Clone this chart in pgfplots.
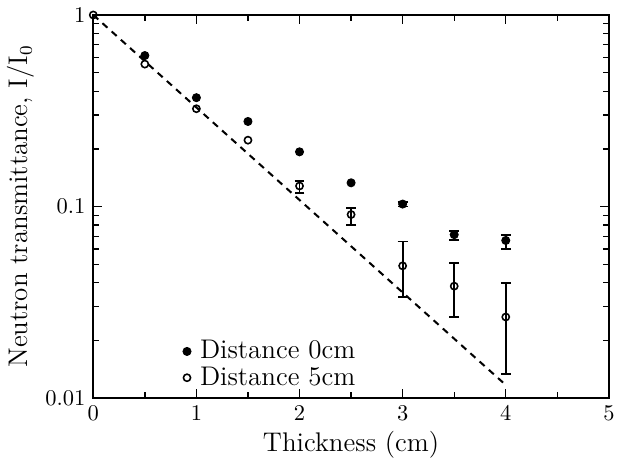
\documentclass[border=0pt]{standalone}
\usepackage{pgfplots}
\pgfplotsset{compat=1.18}
\begin{document}
\begin{tikzpicture}
\begin{axis}[scale only axis,width=229.5pt,height=170.5pt,
  ymode=log,xmin=0,xmax=5,ymin=0.01,ymax=1,
  xtick={0,1,2,3,4,5},minor xtick={0.5,1.5,2.5,3.5,4.5},
  ytick={0.01,0.1,1},yticklabels={0.01,0.1,1},
  tick align=inside,major tick length=4pt,minor tick length=2.5pt,
  axis line style={line width=0.9pt},
  every tick/.style={line width=0.6pt},
  xlabel={Thickness (cm)},ylabel={Neutron transmittance, I/I$_0$},
  label style={font=\large},
  xlabel style={yshift=2pt},ylabel style={yshift=-2pt},
  legend style={draw=none,fill=none,at={(0.16,0.0)},anchor=south west,font=\large,row sep=-2pt},
  legend cell align=left]
\addplot[only marks,mark=*,mark size=1.8pt,black,
  error bars/.cd,y dir=both,y explicit,error bar style={line width=0.8pt},
  error mark options={rotate=90,mark size=2.2pt,line width=0.8pt}]
  coordinates {(0.5,0.614) (1,0.37) (1.5,0.278) (2,0.193) (2.5,0.133)
  (3,0.103) += (0,0.003) -= (0,0.003)
  (3.5,0.0713) += (0,0.0034) -= (0,0.0043)
  (4,0.0665) += (0,0.0048) -= (0,0.0065)};
\addlegendentry{\,Distance 0cm}
\addplot[only marks,mark=o,mark size=1.6pt,black,mark options={line width=0.7pt,fill=white},
  error bars/.cd,y dir=both,y explicit,error bar style={line width=0.8pt},
  error mark options={rotate=90,mark size=2.2pt,line width=0.8pt}]
  coordinates {(0,1) (0.5,0.554) (1,0.324) (1.5,0.222)
  (2,0.128) += (0,0.008) -= (0,0.010)
  (2.5,0.0908) += (0,0.0076) -= (0,0.0104)
  (3,0.049) += (0,0.0167) -= (0,0.0153)
  (3.5,0.0384) += (0,0.0122) -= (0,0.0119)
  (4,0.0265) += (0,0.0132) -= (0,0.0131)};
\addlegendentry{\,Distance 5cm}
\addplot[black,dashed,line width=0.9pt,dash pattern=on 3pt off 2.5pt,forget plot]
  coordinates {(0,1) (4,0.0117)};
\end{axis}
\end{tikzpicture}
\end{document}
